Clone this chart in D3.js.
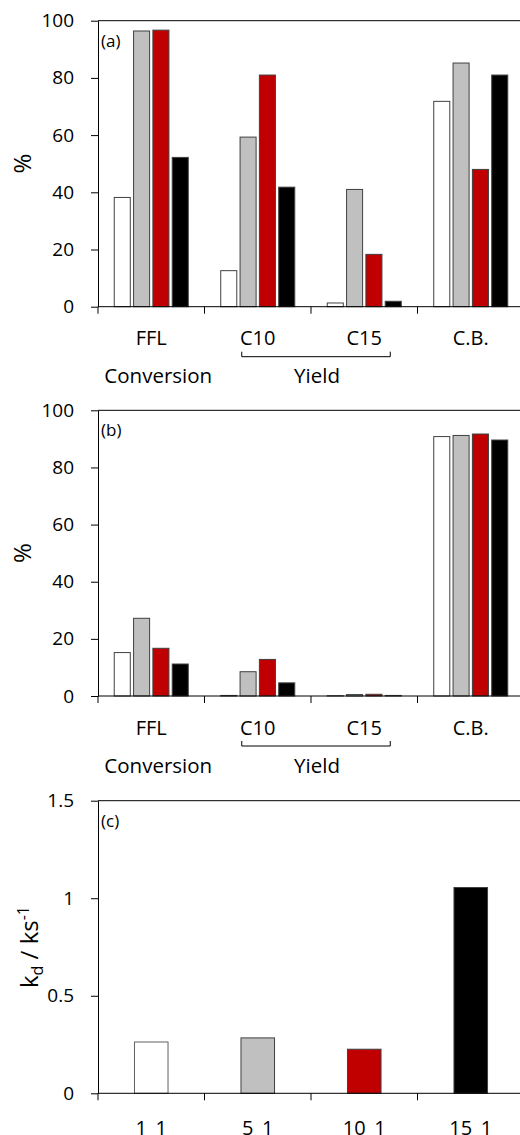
<!DOCTYPE html>
<html>
<head>
<meta charset="utf-8">
<script src="https://cdn.jsdelivr.net/npm/d3@7"></script>
<style>
  body { margin: 0; background: #fff; }
  text { font-family: "Open Sans", Lato, sans-serif; fill: #000; }
</style>
</head>
<body>
<script>
// categories and series
var categories = ["FFL", "C10", "C15", "C.B."];
var series = ["s1", "s2", "s3", "s4"];
var seriesFill = ["#ffffff", "#c0c0c0", "#c00000", "#000000"];

// panel (a) values, %
var valuesA = [
  [38.2, 96.4, 96.7, 52.2],
  [12.6, 59.3, 81.0, 41.8],
  [1.3, 41.0, 18.3, 1.9],
  [71.8, 85.2, 48.0, 81.0]
];
// panel (b) values, %
var valuesB = [
  [15.2, 27.2, 16.7, 11.2],
  [0.2, 8.5, 12.8, 4.6],
  [0.1, 0.5, 0.6, 0.2],
  [90.8, 91.2, 91.7, 89.6]
];
// panel (c) kd values
var ratios = ["1_1", "5_1", "10_1", "15_1"];
var kdValues = [0.263, 0.284, 0.226, 1.055];

var pctTicks = [0, 20, 40, 60, 80, 100];
var kdTicks = [0, 0.5, 1, 1.5];

var W = 520, H = 1135;
var x0 = 98, x1 = 524;

var svg = d3.select("body").append("svg")
  .attr("width", W)
  .attr("height", H);

function frame(g, y, ticks, fmt) {
  // left axis with outward ticks
  var ax = g.append("g").attr("transform", "translate(" + x0 + ",0)")
    .call(d3.axisLeft(y).tickValues(ticks).tickSize(7).tickSizeOuter(0).tickFormat(fmt));
  ax.select(".domain").attr("stroke", "#000");
  ax.selectAll(".tick line").attr("stroke", "#000");
  ax.selectAll(".tick text").attr("x", -24).style("font-size", "19px");
  // top border
  g.append("line")
    .attr("x1", x0).attr("x2", x1)
    .attr("y1", y.range()[1]).attr("y2", y.range()[1])
    .attr("stroke", "#000");
}

function baseline(g, y, x) {
  var yb = y(0);
  g.append("line")
    .attr("x1", x0).attr("x2", x1)
    .attr("y1", yb).attr("y2", yb)
    .attr("stroke", "#000");
  var edges = x.domain().map(function (d) { return x(d); });
  g.selectAll(".xtick").data(edges).enter().append("line")
    .attr("class", "xtick")
    .attr("x1", function (d) { return d; }).attr("x2", function (d) { return d; })
    .attr("y1", yb).attr("y2", yb + 7)
    .attr("stroke", "#000");
}

function groupedPanel(top, bottom, values, tag) {
  var g = svg.append("g");
  var x = d3.scaleBand().domain(categories).range([x0, x1]);
  var xs = d3.scaleBand().domain(series).range([0, x.bandwidth()])
    .paddingInner(0.17).paddingOuter(0.84);
  var y = d3.scaleLinear().domain([0, 100]).range([bottom, top]);

  frame(g, y, pctTicks, d3.format("d"));

  var groups = g.selectAll(".grp").data(values).enter().append("g")
    .attr("transform", function (d, i) { return "translate(" + x(categories[i]) + ",0)"; });
  groups.selectAll("rect").data(function (d) { return d; }).enter().append("rect")
    .attr("x", function (d, j) { return xs(series[j]); })
    .attr("width", xs.bandwidth())
    .attr("y", function (d) { return y(d); })
    .attr("height", function (d) { return y(0) - y(d); })
    .attr("fill", function (d, j) { return seriesFill[j]; })
    .attr("stroke", "#404040")
    .attr("stroke-width", 1);

  baseline(g, y, x);

  g.append("text").attr("x", 101).attr("y", top + 26)
    .style("font-size", "17px").text(tag);

  // y title
  g.append("text")
    .attr("transform", "translate(31," + ((top + bottom) / 2) + ") rotate(-90)")
    .attr("text-anchor", "middle")
    .style("font-size", "24px").text("%");

  // category labels
  g.selectAll(".cat").data(categories).enter().append("text")
    .attr("x", function (d) { return x(d) + x.bandwidth() / 2; })
    .attr("y", bottom + 38.5)
    .attr("text-anchor", "middle")
    .style("font-size", "20px")
    .text(function (d) { return d; });

  // yield bracket under C10 and C15
  var bx1 = x("C10") + x.bandwidth() / 2 - 16;
  var bx2 = x("C15") + x.bandwidth() / 2 + 26;
  var by = bottom + 50;
  g.append("path")
    .attr("d", "M" + bx1 + "," + (by - 5) + "V" + by + "H" + bx2 + "V" + (by - 5))
    .attr("fill", "none").attr("stroke", "#000");

  g.append("text").attr("x", x("FFL") + x.bandwidth() / 2 + 7).attr("y", bottom + 76.5)
    .attr("text-anchor", "middle").style("font-size", "20.5px").text("Conversion");
  g.append("text").attr("x", (bx1 + bx2) / 2 + 1).attr("y", bottom + 76.5)
    .attr("text-anchor", "middle").style("font-size", "20.5px").text("Yield");
}

groupedPanel(20.7, 306.7, valuesA, "(a)");
groupedPanel(410.3, 696, valuesB, "(b)");

// panel (c)
(function () {
  var top = 800.7, bottom = 1093.3;
  var g = svg.append("g");
  var x = d3.scaleBand().domain(ratios).range([x0, x1]);
  var y = d3.scaleLinear().domain([0, 1.5]).range([bottom, top]);
  var bw = x.bandwidth() * 0.315;

  frame(g, y, kdTicks, function (d) { return String(d); });

  g.selectAll("rect.kd").data(kdValues).enter().append("rect")
    .attr("class", "kd")
    .attr("x", function (d, i) { return x(ratios[i]) + (x.bandwidth() - bw) / 2; })
    .attr("width", bw)
    .attr("y", function (d) { return y(d); })
    .attr("height", function (d) { return y(0) - y(d); })
    .attr("fill", function (d, i) { return seriesFill[i]; })
    .attr("stroke", function (d, i) { return i === 0 ? "#606060" : "#404040"; });

  baseline(g, y, x);

  g.append("text").attr("x", 101).attr("y", top + 26)
    .style("font-size", "17px").text("(c)");

  var t = g.append("text")
    .attr("transform", "translate(38," + ((top + bottom) / 2) + ") rotate(-90)")
    .attr("text-anchor", "middle")
    .style("font-size", "24px");
  t.append("tspan").text("k");
  t.append("tspan").attr("dy", 5).style("font-size", "16px").text("d");
  t.append("tspan").attr("dy", -5).text(" / ks");
  t.append("tspan").attr("dy", -9).style("font-size", "16px").text("-1");

  // ratio labels sit on the bottom edge, as in the source image
  g.selectAll(".rat").data(ratios).enter().append("text")
    .attr("x", function (d) { return x(d) + x.bandwidth() / 2; })
    .attr("y", 1134.5)
    .attr("text-anchor", "middle")
    .style("font-size", "20px")
    .text(function (d) { return d; });
})();
</script>
</body>
</html>
